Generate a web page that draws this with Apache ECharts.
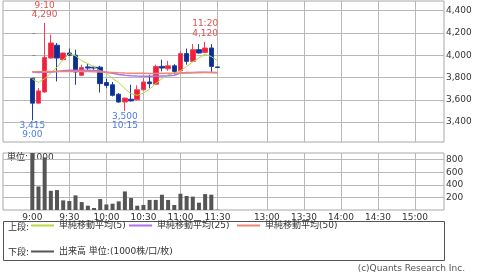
<!DOCTYPE html>
<html><head><meta charset="utf-8">
<script src="https://cdn.jsdelivr.net/npm/echarts@6/dist/echarts.min.js"></script>
<style>html,body{margin:0;padding:0;background:#fff}#c{width:480px;height:272px}</style>
</head><body><div id="c"></div><script>
// ---- data ----
const times = ['9:00','9:05','9:10','9:15','9:20','9:25','9:30','9:35','9:40','9:45','9:50','9:55',
  '10:00','10:05','10:10','10:15','10:20','10:25','10:30','10:35','10:40','10:45','10:50','10:55',
  '11:00','11:05','11:10','11:15','11:20','11:25','11:30'];
const opens  = [3790,3570,3670,3975,4090,3960,4020,4000,3820,3895,3893,3893,3755,3735,3650,3580,3605,3600,3690,3760,3740,3900,3878,3905,3860,4015,3945,4050,4025,4065,3895];
const closes = [3570,3680,3980,4110,3975,4020,4000,3850,3890,3885,3885,3745,3728,3640,3580,3615,3590,3690,3760,3745,3900,3885,3905,3855,4015,3945,4050,4020,4065,3900,3890];
const lows   = [3415,3565,3665,3970,3765,3955,3995,3735,3815,3855,3870,3665,3705,3630,3575,3500,3585,3595,3685,3705,3735,3855,3860,3840,3855,3915,3940,4015,4020,3850,3887];
const highs  = [3790,3705,4290,4185,4110,4025,4060,4050,3915,3920,3905,3905,3790,3760,3660,3620,3735,3730,3795,3825,3915,3960,3950,3920,4035,4060,4100,4100,4120,4100,3897];
const volumes = [950,374,835,305,316,153,142,232,126,68,32,174,88,100,137,295,190,68,79,160,160,242,160,79,258,222,212,116,253,243,5];
const ma5  = [3786,3755,3790,3840,3893,3960,4015,3995,3950,3925,3895,3860,3840,3790,3755,3700,3655,3640,3660,3695,3745,3790,3825,3840,3860,3900,3940,3975,4010,3988,3950];
const ma25 = [3850,3845,3848,3850,3855,3860,3865,3866,3866,3865,3862,3858,3848,3838,3828,3820,3815,3813,3812,3812,3812,3814,3815,3820,3840,3845,3846,3847,3847,3845,3843];
const ma50 = [3852,3852,3853,3853,3854,3854,3855,3855,3854,3853,3852,3850,3848,3845,3842,3840,3839,3838,3838,3837,3837,3838,3838,3838,3840,3841,3842,3843,3845,3846,3846];
const xTickLabels = ['9:00','9:30','10:00','10:30','11:00','11:30','13:00','13:30','14:00','14:30','15:00'];
const xGridTimes  = ['9:30','10:00','10:30','11:00','11:30','13:00','13:30','14:00','14:30','15:00'];
const priceTicks = [3400,3600,3800,4000,4200,4400];
const volumeTicks = [200,400,600,800];
const highNotes = [['9:10',4290],['11:20',4120]];
const lowNotes  = [['9:00',3415],['10:15',3500]];
const seriesNames = ['単純移動平均(5)','単純移動平均(25)','単純移動平均(50)','出来高 単位:(1000株/口/枚)'];

// ---- helpers ----
function slot(t){ const p=t.split(':').map(Number); const m=p[0]*60+p[1];
  return m>=780 ? (m-780)/5+38 : (m-540)/5; }
function slotLabel(v){ for(const t of xTickLabels){ if(Math.abs(slot(t)-v)<1e-6) return t; } return ''; }
function fmt(n){ return String(n).replace(/\B(?=(\d{3})+(?!\d))/g, ','); }
const XMIN=-4.75, XMAX=66.7;
const FONT = "'DejaVu Sans','Noto Sans CJK JP',sans-serif";
const gridLine = {show:true, lineStyle:{color:'#b8b8b8', width:1}};

const chart = echarts.init(document.getElementById('c'), null, {renderer:'canvas'});
const xBase = (gi, labels) => ({
  type:'value', gridIndex:gi, min:XMIN, max:XMAX,
  axisLine:{show:false},
  axisTick:{show:false, customValues: xGridTimes.map(slot)},
  splitLine: gridLine,
  axisLabel: labels ? {show:true, customValues: xTickLabels.map(slot), formatter: slotLabel,
    fontSize:9, color:'#333', margin:3, fontFamily:FONT} : {show:false}
});
chart.setOption({
  animation:false,
  textStyle:{fontFamily:FONT},
  grid:[
    {left:3, right:36, top:1, height:141, show:true, borderColor:'#a8a8a8', borderWidth:1, backgroundColor:'#fff'},
    {left:3, right:36, top:153, height:57, show:true, borderColor:'#a8a8a8', borderWidth:1, backgroundColor:'#fff'}
  ],
  xAxis:[ xBase(0,false), xBase(1,true) ],
  yAxis:[
    {type:'value', gridIndex:0, position:'right', min:3221, max:4487,
     axisLine:{show:false},
     axisTick:{show:true, length:3, customValues:priceTicks, lineStyle:{color:'#888'}},
     axisLabel:{customValues:priceTicks, formatter:v=>fmt(v), fontSize:9, color:'#333', margin:2, fontFamily:FONT},
     splitLine: gridLine},
    {type:'value', gridIndex:1, position:'right', min:0, max:905,
     axisLine:{show:false},
     axisTick:{show:true, length:3, customValues:volumeTicks, lineStyle:{color:'#888'}},
     axisLabel:{customValues:volumeTicks, formatter:v=>String(v), fontSize:9, color:'#333', margin:2, fontFamily:FONT},
     splitLine: gridLine}
  ],
  legend:[
    {left:31, top:221, padding:0, selectedMode:false, icon:'rect', itemWidth:23, itemHeight:2, data:[seriesNames[0]], textStyle:{fontSize:9, color:'#333'}},
    {left:129, top:221, padding:0, selectedMode:false, icon:'rect', itemWidth:23, itemHeight:2, data:[seriesNames[1]], textStyle:{fontSize:9, color:'#333'}},
    {left:237, top:221, padding:0, selectedMode:false, icon:'rect', itemWidth:23, itemHeight:2, data:[seriesNames[2]], textStyle:{fontSize:9, color:'#333'}},
    {left:31, top:247, padding:0, selectedMode:false, icon:'rect', itemWidth:23, itemHeight:2, data:[seriesNames[3]], textStyle:{fontSize:9, color:'#333'}}
  ],
  graphic:[
    {type:'rect', shape:{x:3.5, y:221.5, width:441, height:39}, style:{fill:'none', stroke:'#555', lineWidth:1}},
    {type:'text', x:8, y:227.5, style:{text:'上段:', fontSize:9, fill:'#333', verticalAlign:'middle', fontFamily:FONT}},
    {type:'text', x:8, y:253, style:{text:'下段:', fontSize:9, fill:'#333', verticalAlign:'middle', fontFamily:FONT}},
    {type:'text', x:7, y:157.5, style:{text:'単位: 1000', fontSize:9, fill:'#333', verticalAlign:'middle', fontFamily:FONT}},
    {type:'text', x:465, y:269, style:{text:'(c)Quants Research Inc.', fontSize:9, fill:'#555', align:'right', verticalAlign:'middle', fontFamily:FONT}}
  ],
  series:[
    {type:'candlestick', name:'price', xAxisIndex:0, yAxisIndex:0, barWidth:5,
     encode:{x:0, y:[1,2,3,4]},
     data: times.map((t,i)=>[slot(t), opens[i], closes[i], lows[i], highs[i]]),
     itemStyle:{color:'#f0203c', color0:'#0c2f8f', borderColor:'#f0405a', borderColor0:'#1a3f9f', borderWidth:1},
     markPoint:{symbol:'circle', symbolSize:1, itemStyle:{color:'rgba(0,0,0,0)'},
       label:{show:true, position:'inside', fontSize:9, lineHeight:9.5, fontFamily:FONT},
       data: highNotes.map(([t,v])=>({coord:[slot(t), v], label:{formatter:t+'\n'+fmt(v), color:'#e05050', offset:[0,-13]}}))
         .concat(lowNotes.map(([t,v])=>({coord:[slot(t), v], label:{formatter:fmt(v)+'\n'+t, color:'#4a78e8', offset:[0,10]}})))
     }},
    {type:'line', name:seriesNames[0], xAxisIndex:0, yAxisIndex:0, symbol:'none', color:'#b8d840', lineStyle:{width:1},
     data: times.map((t,i)=>[slot(t), ma5[i]])},
    {type:'line', name:seriesNames[1], xAxisIndex:0, yAxisIndex:0, symbol:'none', color:'#b070f0', lineStyle:{width:1.5},
     data: times.map((t,i)=>[slot(t), ma25[i]])},
    {type:'line', name:seriesNames[2], xAxisIndex:0, yAxisIndex:0, symbol:'none', color:'#f08870', lineStyle:{width:1.5},
     data: times.map((t,i)=>[slot(t), ma50[i]])},
    {type:'bar', name:seriesNames[3], xAxisIndex:1, yAxisIndex:1, barWidth:4, color:'#555',
     data: times.map((t,i)=>[slot(t), volumes[i]])}
  ]
});
</script></body></html>
